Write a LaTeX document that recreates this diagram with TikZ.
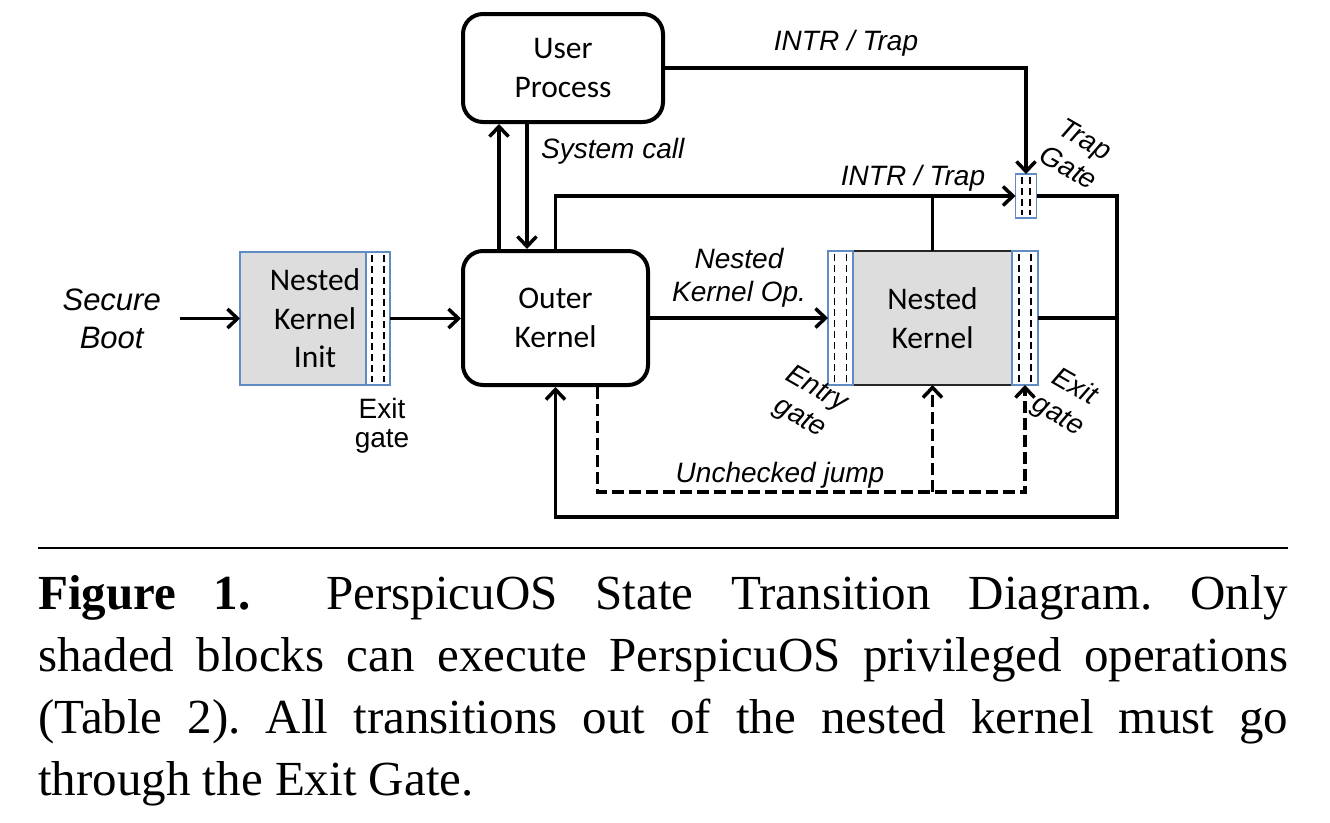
\documentclass[tikz,border=0pt]{standalone}
\usepackage{fontspec}
\setmainfont{Liberation Serif}
\newfontfamily\boxfont{Carlito}
\newfontfamily\labelfont{Liberation Sans}
\usetikzlibrary{arrows.meta,positioning}

\definecolor{gateblue}{RGB}{96,140,196}
\definecolor{shade}{RGB}{221,221,221}

\begin{document}
\begin{tikzpicture}[
		x=1pt, y=-1pt,
		wire/.style={line width=3.5pt},
		arrow/.style={line width=3.5pt, -{Straight Barb[length=10pt, width=19pt]}},
		jump/.style={arrow, dash pattern=on 12pt off 5pt},
		boxtext/.style={font=\boxfont\fontsize{31.5}{38.5}\selectfont},
		stateblock/.style={draw, line width=4pt, rounded corners=20pt, align=center, boxtext},
		privblock/.style={fill=shade, line width=1.6pt, outer sep=0pt, align=center, boxtext},
		gate/.style={draw=gateblue, fill=white, line width=1.6pt, inner sep=0pt, outer sep=0pt},
		gateline/.style={line width=1.4pt, dash pattern=on 7pt off 4pt},
		lbl/.style={font=\labelfont\itshape\fontsize{28}{33}\selectfont, align=center, inner sep=0pt},
		gatelabel/.style={font=\labelfont\itshape\fontsize{28}{33}\selectfont, align=center, inner sep=0pt, rotate=-30},
		note/.style={font=\labelfont\fontsize{28}{29}\selectfont, align=center, inner sep=0pt},
		captiontext/.style={font=\fontsize{49}{62}\selectfont, text width=1250pt, align=justify, inner sep=0pt},
	]
	\useasboundingbox (0,0) rectangle (1330,822);

	\node[stateblock, minimum width=185pt, minimum height=134pt] (outer) at (555.5,318) {Outer\\Kernel};
	\node[stateblock, minimum width=200pt, minimum height=108pt] (user) at (563,68) {User\\Process};

	\node[privblock, draw=gateblue, minimum width=150pt, minimum height=133pt] (init) at (315,318.5) {Nested\\Kernel\\Init};
	\node[gate, minimum width=24pt, minimum height=133pt, anchor=east] (initgate) at (init.east) {};

	\node[privblock, draw=black!85, minimum width=159pt, minimum height=134pt] (nested) at (932.5,318) {Nested\\Kernel};
	\node[gate, minimum width=25pt, minimum height=134pt, left=0pt of nested] (entrygate) {};
	\node[gate, minimum width=26pt, minimum height=134pt, right=0pt of nested] (exitgate) {};
	\node[gate, minimum width=21pt, minimum height=44pt] (trapgate) at (1026,196) {};

	\foreach \g/\d in {initgate/6, entrygate/6, exitgate/6, trapgate/4}
		\foreach \s in {-1,1}
			\draw[gateline] ([xshift=\s*\d pt, yshift=-3pt]\g.north) -- ([xshift=\s*\d pt, yshift=3pt]\g.south);

	\node[lbl, font=\labelfont\itshape\fontsize{31}{38}\selectfont, left=79pt of init] (secure) {Secure\\Boot};
	\node[note, below=13pt of initgate, xshift=4pt] (initexit) {Exit\\gate};
	\node[lbl, anchor=base west] (syscall) at (541,158) {System call};
	\node[lbl, anchor=base] (intrtop) at (846,50) {INTR / Trap};
	\node[lbl, anchor=base] (intrlow) at (913,185) {INTR / Trap};
	\node[lbl, anchor=base] (jumplabel) at (780,482) {Unchecked jump};
	\node[gatelabel] (entrylabel) at (808,404) {Entry\\gate};
	\node[gatelabel] (exitlabel) at (1066,402) {Exit\\gate};
	\node[gatelabel] (traplabel) at (1077,153) {Trap\\Gate};

	\draw[arrow, shorten <=19pt] (secure) -- (init);
	\draw[arrow] (initgate.east) -- (initgate.east -| outer.west);
	\draw[arrow] ([xshift=-56.5pt]outer.north) -- ([xshift=-56.5pt]outer.north |- user.south);
	\draw[arrow] ([xshift=-36pt]user.south) -- ([xshift=-36pt]user.south |- outer.north);
	\draw[arrow] (user.east) -| (trapgate.north);
	\draw[arrow] (outer.north) |- (trapgate.west);
	\draw[wire] (nested.north) -- (nested.north |- trapgate.west);
	\draw[arrow] (outer.east) -- (entrygate.west) node[lbl, midway, above=9pt] (oplabel) {Nested\\Kernel Op.};

	\coordinate (loop) at (1117,517);
	\draw[arrow] (trapgate.east) -| (loop) -| (outer.south);
	\draw[wire] (exitgate.east) -- (exitgate.east -| loop);

	\path (exitgate.south) ++(0,107) coordinate (unchecked);
	\draw[jump] ([xshift=42pt]outer.south) |- (unchecked) -- (exitgate.south);
	\draw[jump] (nested.south |- unchecked) -- (nested.south);

	% caption below the rule
	\draw[line width=1.5pt] (38,548) -- (1288,548);
	\node[captiontext, anchor=base west] (caption) at (38,609) {\frenchspacing\textbf{Figure 1.}\ \ PerspicuOS State Transition Diagram. Only\linebreak
		shaded blocks can execute PerspicuOS privileged operations\linebreak
		(Table 2). All transitions out of the nested kernel must go\linebreak
		through the Exit Gate.};
\end{tikzpicture}
\end{document}
